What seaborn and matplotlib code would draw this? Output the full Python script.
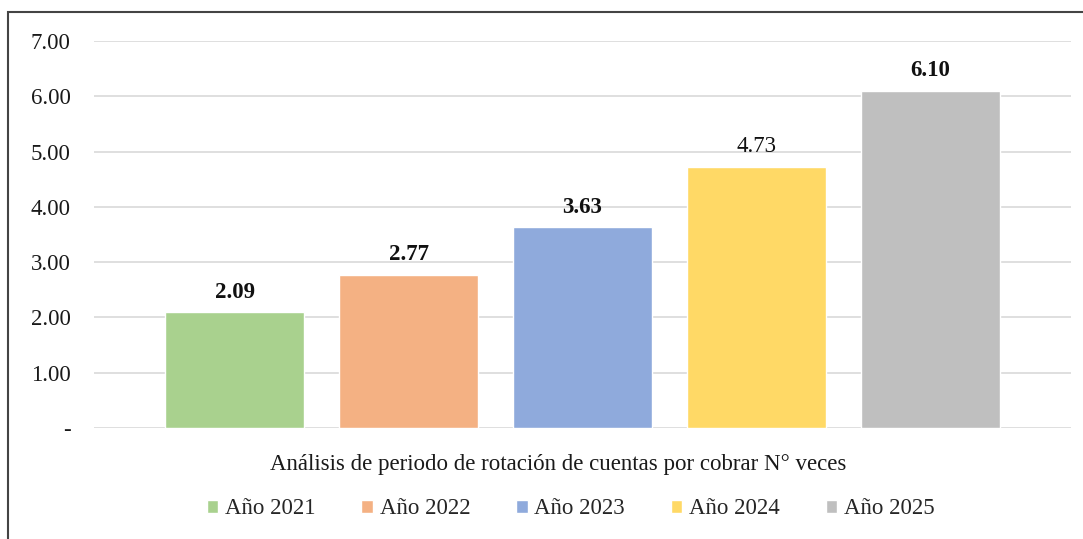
import matplotlib
matplotlib.use('Agg')
import matplotlib.pyplot as plt
import matplotlib.ticker as mticker
from matplotlib.patches import Rectangle
import seaborn as sns
import pandas as pd

# ── Data ─────────────────────────────────────────────────────────────────────
years  = ['Año 2021', 'Año 2022', 'Año 2023', 'Año 2024', 'Año 2025']
values = [2.09, 2.77, 3.63, 4.73, 6.10]
bold   = [True, True, True, False, True]
colors = ['#A9D18E', '#F4B183', '#8FAADC', '#FFD966', '#BFBFBF']
xlabel = 'Análisis de periodo de rotación de cuentas por cobrar N° veces'

df = pd.DataFrame({'year': years, 'value': values})

# ── Style ────────────────────────────────────────────────────────────────────
sns.set_style('white')
plt.rcParams['font.family'] = ['Liberation Serif', 'DejaVu Serif']
fs = 16.5

fig = plt.figure(figsize=(10.83, 5.39), dpi=100)
ax = fig.add_axes([0.0868, 0.2059, 0.9021, 0.718])

sns.barplot(data=df, x='year', y='value', hue='year', palette=colors,
            width=0.8, saturation=1, ax=ax, legend=True)

ax.set_ylim(0, 7)
ax.set_xlim(-0.808, 4.808)
ax.yaxis.set_major_locator(mticker.MultipleLocator(1))
ax.yaxis.set_major_formatter(
    mticker.FuncFormatter(lambda v, p: '-' if abs(v) < 1e-9 else f'{v:.2f}'))
ax.grid(axis='y', color='#D9D9D9', linewidth=1.2)
ax.set_axisbelow(True)
for s in ax.spines.values():
    s.set_visible(False)
ax.tick_params(axis='y', length=0, pad=17, labelsize=fs, labelcolor='#1a1a1a')
ax.set_xticks([])
ax.set_ylabel('')
ax.set_xlabel(xlabel, fontsize=fs, color='#1a1a1a')
ax.xaxis.set_label_coords(0.475, -0.068)

# value labels
for i, (v, b) in enumerate(zip(values, bold)):
    ax.annotate(f'{v:.2f}', (i, v), xytext=(0, 7), textcoords='offset points',
                ha='center', va='bottom', fontsize=fs, color='#111111',
                fontweight='bold' if b else 'normal')

# legend at bottom
handles, labels = ax.get_legend_handles_labels()
ax.get_legend().remove()
fig.legend(handles, labels, loc='center', bbox_to_anchor=(0.527, 1 - 509 / 539),
           ncol=5, frameon=False, fontsize=fs, handlelength=0.5,
           handleheight=0.5, handletextpad=0.3, columnspacing=2.0)

# outer frame (top and left visible in reference)
fig.patches.append(Rectangle((8 / 1083, -0.05), 1.2, 1 - 12 / 539 + 0.05,
                             transform=fig.transFigure, fill=False,
                             edgecolor='#444444', linewidth=1.5))

fig.savefig('out.png', dpi=100, facecolor='white')
